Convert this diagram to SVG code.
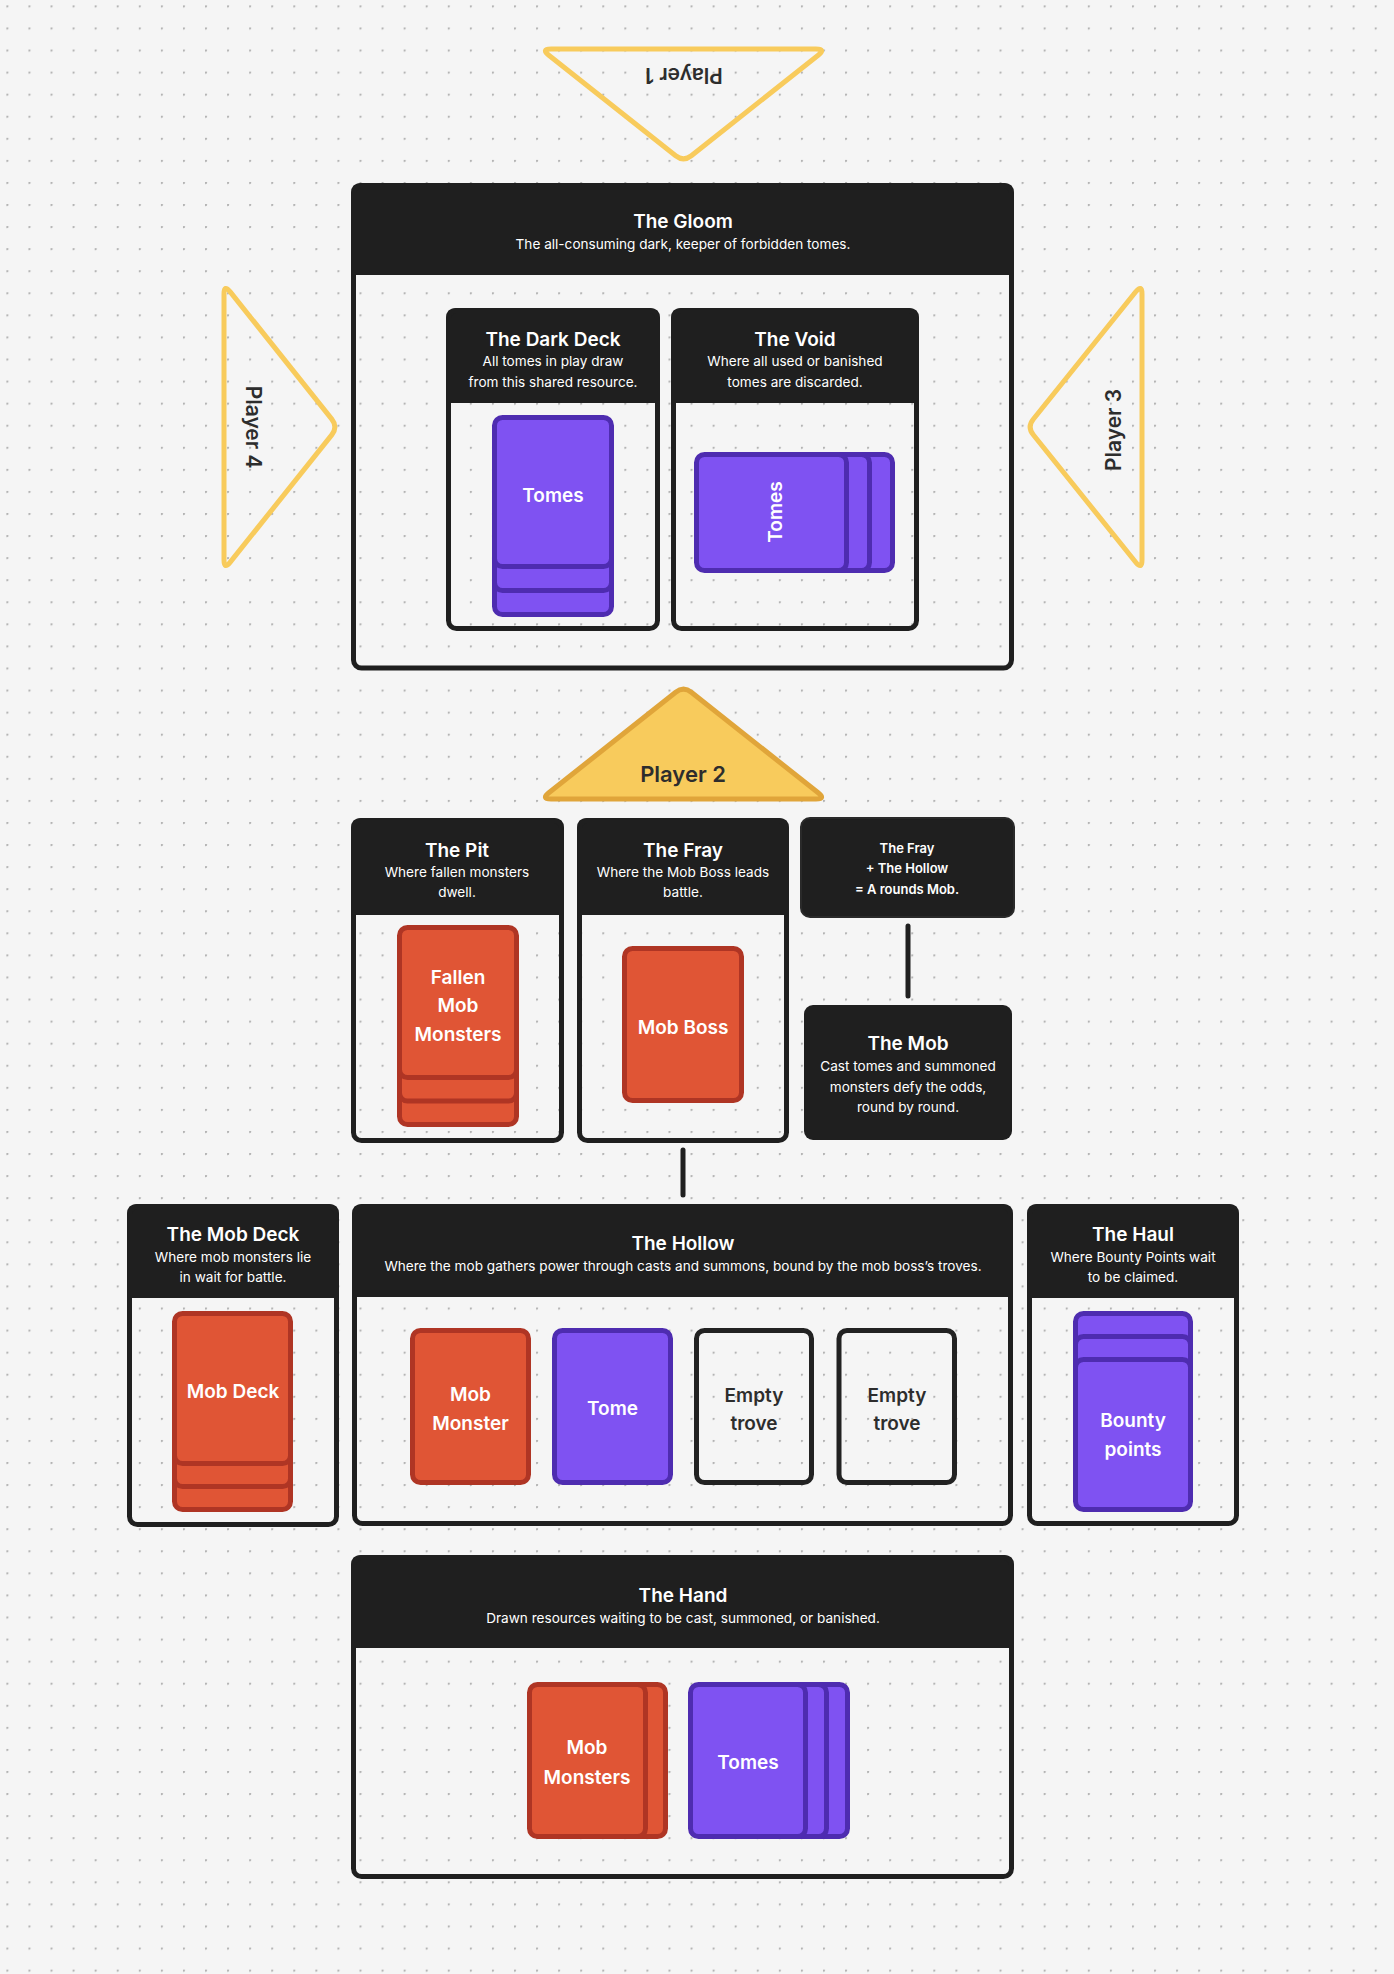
<svg xmlns="http://www.w3.org/2000/svg" width="1394" height="1974" viewBox="0 0 1394 1974">
<style>
text{font-family:Inter,"Liberation Sans",sans-serif;text-anchor:middle}
.hd{fill:#1f1f1f}
.fr{fill:none;stroke:#1f1f1f;stroke-width:5}
.t{fill:#fff;font-size:19px;font-weight:600}
.s{fill:#fff;font-size:13.6px}
.n{fill:#fff;font-size:13px;font-weight:600}
.pu{fill:#7f52f2;stroke:#4e2cb0;stroke-width:5}
.rd{fill:#e05535;stroke:#af3524;stroke-width:5}
.em{fill:none;stroke:#222;stroke-width:5}
.ct{fill:#fff;font-size:19px;font-weight:600}
.ce{fill:#2d2d2d;font-size:19px;font-weight:600}
.py{fill:none;stroke:#f8cb5c;stroke-width:5}
.pf{fill:#f8cb5c;stroke:#e0a53a;stroke-width:5}
.pt{fill:#2d2d2d;font-size:21px;font-weight:600}
.cn{stroke:#1f1f1f;stroke-width:5;stroke-linecap:round;fill:none}
</style>
<defs>
<pattern id="dots" x="6.4" y="5.4" width="22.07" height="22.07" patternUnits="userSpaceOnUse">
<circle cx="0.8" cy="0.8" r="1.3" fill="#b3b3b3"/>
</pattern>
</defs>
<rect width="1394" height="1974" fill="#f5f5f5"/>
<rect width="1394" height="1974" fill="url(#dots)"/>

<g id="player1">
<path class="py" d="M551,49 L816,49 Q826,49 818.17,55.21 L691.33,155.79 Q683.5,162 675.67,155.79 L548.83,55.21 Q541,49 551,49 Z"/>
<text class="pt" transform="translate(684,75) rotate(180)" y="7.5">Player 1</text>
</g>

<g id="gloom">
<path class="hd" d="M351,275 V193 Q351,183 361,183 H1004 Q1014,183 1014,193 V275 Z"/>
<rect class="fr" x="353.5" y="185.5" width="658" height="482.5" rx="8"/>
<text class="t" x="683" y="228">The Gloom</text>
<text class="s" x="683" y="249">The all-consuming dark, keeper of forbidden tomes.</text>
</g>

<g id="darkdeck">
<path class="hd" d="M446,403 V318 Q446,308 456,308 H650 Q660,308 660,318 V403 Z"/>
<rect class="fr" x="448.5" y="310.5" width="209" height="318" rx="8"/>
<text class="t" x="553" y="345.5">The Dark Deck</text>
<text class="s" x="553" y="365.8">All tomes in play draw</text>
<text class="s" x="553" y="386.6">from this shared resource.</text>
<rect class="pu" x="494.5" y="465.5" width="117" height="149" rx="8"/>
<rect class="pu" x="494.5" y="441.5" width="117" height="149" rx="8"/>
<rect class="pu" x="494.5" y="417.5" width="117" height="149" rx="8"/>
<text class="ct" x="553" y="502">Tomes</text>
</g>

<g id="void">
<path class="hd" d="M671,403 V318 Q671,308 681,308 H909 Q919,308 919,318 V403 Z"/>
<rect class="fr" x="673.5" y="310.5" width="243" height="318" rx="8"/>
<text class="t" x="795" y="345.5">The Void</text>
<text class="s" x="795" y="365.8">Where all used or banished</text>
<text class="s" x="795" y="386.6">tomes are discarded.</text>
<rect class="pu" x="742.5" y="454.5" width="150" height="116" rx="8"/>
<rect class="pu" x="719.5" y="454.5" width="150" height="116" rx="8"/>
<rect class="pu" x="696.5" y="454.5" width="150" height="116" rx="8"/>
<text class="ct" transform="translate(775,512) rotate(-90)" y="7">Tomes</text>
</g>

<g id="player4">
<path class="py" d="M230.23,291.82 L331.77,419.18 Q338,427 331.77,434.82 L230.23,562.18 Q224,570 224,560 L224,294 Q224,284 230.23,291.82 Z"/>
<text class="pt" transform="translate(253,427) rotate(90)" y="7.5">Player 4</text>
</g>

<g id="player3">
<path class="py" d="M1135.73,291.79 L1033.27,419.21 Q1027,427 1033.27,434.79 L1135.73,562.21 Q1142,570 1142,560 L1142,294 Q1142,284 1135.73,291.79 Z"/>
<text class="pt" transform="translate(1113,430) rotate(-90)" y="7.5">Player 3</text>
</g>

<g id="player2">
<path class="pf" d="M691.33,692.21 L818.17,792.79 Q826,799 816,799 L551,799 Q541,799 548.83,792.79 L675.67,692.21 Q683.5,686 691.33,692.21 Z"/>
<text class="pt" style="font-size:22px" x="683" y="782">Player 2</text>
</g>

<g id="pit">
<path class="hd" d="M351,915 V828 Q351,818 361,818 H554 Q564,818 564,828 V915 Z"/>
<rect class="fr" x="353.5" y="820.5" width="208" height="320" rx="8"/>
<text class="t" x="457" y="856.5">The Pit</text>
<text class="s" x="457" y="876.7">Where fallen monsters</text>
<text class="s" x="457" y="896.7">dwell.</text>
<rect class="rd" x="399.5" y="974.5" width="117" height="150" rx="8"/>
<rect class="rd" x="399.5" y="951" width="117" height="150" rx="8"/>
<rect class="rd" x="399.5" y="927.5" width="117" height="150" rx="8"/>
<text class="ct" x="458" y="983.7">Fallen</text>
<text class="ct" x="458" y="1012">Mob</text>
<text class="ct" x="458" y="1041.3">Monsters</text>
</g>

<g id="fray">
<path class="hd" d="M577,915 V828 Q577,818 587,818 H779 Q789,818 789,828 V915 Z"/>
<rect class="fr" x="579.5" y="820.5" width="207" height="320" rx="8"/>
<text class="t" x="683" y="856.5">The Fray</text>
<text class="s" x="683" y="876.7">Where the Mob Boss leads</text>
<text class="s" x="683" y="896.7">battle.</text>
<rect class="rd" x="624.5" y="948.5" width="117" height="152" rx="8"/>
<text class="ct" x="683" y="1033.7">Mob Boss</text>
</g>

<g id="note">
<rect x="801" y="818" width="213" height="99" rx="9" fill="#1f1f1f" stroke="#2a2a2a" stroke-width="2"/>
<text class="n" x="907" y="853">The Fray</text>
<text class="n" x="907" y="873">+ The Hollow</text>
<text class="n" x="907" y="893.7">= A rounds Mob.</text>
</g>

<g id="mob">
<rect x="804" y="1005" width="208" height="135" rx="9" fill="#1f1f1f"/>
<text class="t" x="908" y="1050">The Mob</text>
<text class="s" x="908" y="1070.7">Cast tomes and summoned</text>
<text class="s" x="908" y="1091.7">monsters defy the odds,</text>
<text class="s" x="908" y="1112.3">round by round.</text>
</g>

<g id="mobdeck">
<path class="hd" d="M127,1298 V1214 Q127,1204 137,1204 H329 Q339,1204 339,1214 V1298 Z"/>
<rect class="fr" x="129.5" y="1206.5" width="207" height="318" rx="8"/>
<text class="t" x="233" y="1240.5">The Mob Deck</text>
<text class="s" x="233" y="1261.7">Where mob monsters lie</text>
<text class="s" x="233" y="1282.3">in wait for battle.</text>
<rect class="rd" x="174.5" y="1359.5" width="116" height="150" rx="8"/>
<rect class="rd" x="174.5" y="1336.5" width="116" height="150" rx="8"/>
<rect class="rd" x="174.5" y="1313.5" width="116" height="150" rx="8"/>
<text class="ct" x="233" y="1397.7">Mob Deck</text>
</g>

<g id="hollow">
<path class="hd" d="M352,1297 V1214 Q352,1204 362,1204 H1003 Q1013,1204 1013,1214 V1297 Z"/>
<rect class="fr" x="354.5" y="1206.5" width="656" height="317" rx="8"/>
<text class="t" x="683" y="1250">The Hollow</text>
<text class="s" x="683" y="1271">Where the mob gathers power through casts and summons, bound by the mob boss’s troves.</text>
<rect class="rd" x="412.5" y="1330.5" width="116" height="152" rx="8"/>
<text class="ct" x="470.5" y="1401">Mob</text>
<text class="ct" x="470.5" y="1429.7">Monster</text>
<rect class="pu" x="554.5" y="1330.5" width="116" height="152" rx="8"/>
<text class="ct" x="612.5" y="1415">Tome</text>
<rect class="em" x="696.5" y="1330.5" width="115" height="152" rx="8"/>
<text class="ce" x="754" y="1402">Empty</text>
<text class="ce" x="754" y="1430">trove</text>
<rect class="em" x="839" y="1330.5" width="115.5" height="152" rx="8"/>
<text class="ce" x="897" y="1402">Empty</text>
<text class="ce" x="897" y="1430">trove</text>
</g>

<g id="haul">
<path class="hd" d="M1027,1298 V1214 Q1027,1204 1037,1204 H1229 Q1239,1204 1239,1214 V1298 Z"/>
<rect class="fr" x="1029.5" y="1206.5" width="207" height="317" rx="8"/>
<text class="t" x="1133" y="1240.5">The Haul</text>
<text class="s" x="1133" y="1261.7">Where Bounty Points wait</text>
<text class="s" x="1133" y="1282.3">to be claimed.</text>
<rect class="pu" x="1075.5" y="1313.5" width="115" height="150" rx="8"/>
<rect class="pu" x="1075.5" y="1336.5" width="115" height="150" rx="8"/>
<rect class="pu" x="1075.5" y="1359.5" width="115" height="150" rx="8"/>
<text class="ct" x="1133" y="1427">Bounty</text>
<text class="ct" x="1133" y="1456.3">points</text>
</g>

<g id="hand">
<path class="hd" d="M351,1648 V1565 Q351,1555 361,1555 H1004 Q1014,1555 1014,1565 V1648 Z"/>
<rect class="fr" x="353.5" y="1557.5" width="658" height="319" rx="8"/>
<text class="t" x="683" y="1601.5">The Hand</text>
<text class="s" x="683" y="1622.7">Drawn resources waiting to be cast, summoned, or banished.</text>
<rect class="rd" x="549.5" y="1684.5" width="116" height="152" rx="8"/>
<rect class="rd" x="529.5" y="1684.5" width="116" height="152" rx="8"/>
<text class="ct" x="587" y="1754.3">Mob</text>
<text class="ct" x="587" y="1783.7">Monsters</text>
<rect class="pu" x="732.5" y="1684.5" width="115" height="152" rx="8"/>
<rect class="pu" x="711.5" y="1684.5" width="115" height="152" rx="8"/>
<rect class="pu" x="690.5" y="1684.5" width="115" height="152" rx="8"/>
<text class="ct" x="748" y="1768.7">Tomes</text>
</g>

<g id="connectors">
<line class="cn" x1="908" y1="926" x2="908" y2="996"/>
<line class="cn" x1="683" y1="1150" x2="683" y2="1195"/>
</g>
</svg>
